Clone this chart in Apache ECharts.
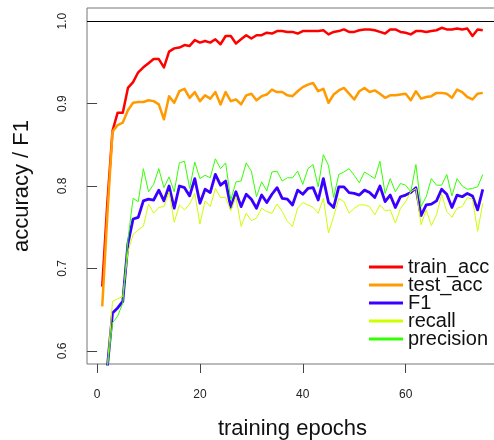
<!DOCTYPE html>
<html>
<head>
<meta charset="utf-8">
<script src="https://cdn.jsdelivr.net/npm/echarts@6/dist/echarts.min.js"></script>
<style>
  html, body { margin: 0; padding: 0; background: #fff; }
  #chart { width: 494px; height: 440px; }
</style>
</head>
<body>
<div id="chart"></div>
<script>
// epochs 1..75
const epochs = [1, 2, 3, 4, 5, 6, 7, 8, 9, 10, 11, 12, 13, 14, 15, 16, 17, 18, 19, 20,
  21, 22, 23, 24, 25, 26, 27, 28, 29, 30, 31, 32, 33, 34, 35, 36, 37, 38, 39, 40,
  41, 42, 43, 44, 45, 46, 47, 48, 49, 50, 51, 52, 53, 54, 55, 56, 57, 58, 59, 60,
  61, 62, 63, 64, 65, 66, 67, 68, 69, 70, 71, 72, 73, 74, 75]

const trainAcc = [0.678, 0.780, 0.867, 0.889, 0.889, 0.919, 0.926, 0.938, 0.944, 0.949,
  0.954, 0.954, 0.944, 0.963, 0.967, 0.968, 0.971, 0.970, 0.977, 0.974,
  0.976, 0.974, 0.978, 0.972, 0.982, 0.982, 0.973, 0.978, 0.983, 0.979,
  0.983, 0.983, 0.986, 0.985, 0.988, 0.988, 0.987, 0.987, 0.985, 0.988,
  0.988, 0.988, 0.988, 0.989, 0.984, 0.987, 0.988, 0.990, 0.987, 0.987,
  0.989, 0.990, 0.990, 0.989, 0.987, 0.985, 0.990, 0.990, 0.987, 0.986,
  0.984, 0.988, 0.988, 0.987, 0.988, 0.989, 0.992, 0.990, 0.990, 0.991,
  0.990, 0.991, 0.982, 0.990, 0.989]

const testAcc = [0.654, 0.765, 0.866, 0.874, 0.877, 0.892, 0.901, 0.902, 0.902, 0.904,
  0.903, 0.899, 0.881, 0.909, 0.901, 0.915, 0.918, 0.907, 0.914, 0.903,
  0.910, 0.906, 0.914, 0.899, 0.914, 0.903, 0.905, 0.899, 0.910, 0.912,
  0.904, 0.909, 0.911, 0.917, 0.914, 0.914, 0.910, 0.909, 0.915, 0.920,
  0.923, 0.925, 0.915, 0.918, 0.901, 0.911, 0.916, 0.919, 0.912, 0.905,
  0.915, 0.919, 0.914, 0.916, 0.912, 0.907, 0.910, 0.910, 0.911, 0.912,
  0.904, 0.915, 0.906, 0.908, 0.909, 0.913, 0.913, 0.912, 0.907, 0.917,
  0.914, 0.908, 0.905, 0.912, 0.913]

const f1 = [0.45, 0.58, 0.646, 0.652, 0.660, 0.730, 0.760, 0.762, 0.782, 0.784,
  0.783, 0.795, 0.782, 0.800, 0.773, 0.800, 0.798, 0.788, 0.809, 0.779,
  0.796, 0.792, 0.814, 0.801, 0.806, 0.774, 0.793, 0.775, 0.790, 0.784,
  0.773, 0.789, 0.780, 0.790, 0.798, 0.785, 0.784, 0.777, 0.795, 0.790,
  0.797, 0.798, 0.783, 0.809, 0.780, 0.774, 0.799, 0.799, 0.792, 0.791,
  0.789, 0.795, 0.792, 0.786, 0.800, 0.781, 0.789, 0.774, 0.787, 0.789,
  0.792, 0.798, 0.764, 0.777, 0.778, 0.782, 0.796, 0.790, 0.774, 0.789,
  0.787, 0.791, 0.788, 0.771, 0.796]

const recall = [0.45, 0.58, 0.660, 0.663, 0.666, 0.720, 0.741, 0.747, 0.751, 0.778,
  0.767, 0.774, 0.775, 0.793, 0.756, 0.777, 0.771, 0.778, 0.791, 0.754,
  0.782, 0.775, 0.797, 0.786, 0.786, 0.770, 0.787, 0.751, 0.767, 0.758,
  0.761, 0.773, 0.769, 0.767, 0.778, 0.769, 0.757, 0.751, 0.773, 0.780,
  0.777, 0.774, 0.767, 0.785, 0.743, 0.763, 0.785, 0.781, 0.767, 0.773,
  0.777, 0.777, 0.775, 0.765, 0.777, 0.770, 0.771, 0.755, 0.773, 0.781,
  0.793, 0.797, 0.753, 0.771, 0.752, 0.765, 0.790, 0.769, 0.762, 0.773,
  0.775, 0.786, 0.784, 0.745, 0.779]

const precision = [0.45, 0.58, 0.634, 0.642, 0.658, 0.735, 0.785, 0.781, 0.821, 0.793,
  0.802, 0.821, 0.798, 0.811, 0.793, 0.828, 0.830, 0.797, 0.829, 0.809,
  0.813, 0.810, 0.833, 0.821, 0.828, 0.783, 0.805, 0.806, 0.828, 0.818,
  0.787, 0.805, 0.794, 0.817, 0.818, 0.806, 0.810, 0.810, 0.818, 0.802,
  0.821, 0.826, 0.799, 0.838, 0.825, 0.786, 0.814, 0.817, 0.821, 0.813,
  0.804, 0.817, 0.813, 0.809, 0.830, 0.791, 0.809, 0.793, 0.803, 0.801,
  0.793, 0.826, 0.775, 0.787, 0.809, 0.801, 0.801, 0.814, 0.788, 0.809,
  0.800, 0.796, 0.797, 0.799, 0.814]

const xTicks = [0, 20, 40, 60]
const yTicks = [0.6, 0.7, 0.8, 0.9, 1.0]

const font = 'Liberation Sans, Arial, sans-serif'

const pairs = (vals) => epochs.map((e, i) => [e, vals[i]])

const lineSeries = (name, vals, color, width) => ({
  name: name,
  type: 'line',
  data: pairs(vals),
  showSymbol: false,
  symbol: 'none',
  clip: true,
  lineStyle: { color: color, width: width, join: 'round' },
  itemStyle: { color: color }
})

const chart = echarts.init(document.getElementById('chart'), null, { renderer: 'canvas' })

const series = [
  lineSeries('train_acc', trainAcc, '#ff0000', 2.5),
  lineSeries('test_acc', testAcc, '#ff9a00', 2.5),
  lineSeries('F1', f1, '#3a00ff', 2.8),
  lineSeries('recall', recall, '#ccff00', 1),
  lineSeries('precision', precision, '#33ff00', 1)
]

// horizontal reference line at 1.0
series[0].markLine = {
  silent: true,
  symbol: 'none',
  label: { show: false },
  lineStyle: { color: '#000', width: 1, type: 'solid' },
  data: [{ yAxis: 1.0 }]
}

chart.setOption({
  animation: false,
  backgroundColor: '#fff',
  grid: {
    left: 87,
    top: 8,
    width: 411,
    height: 356,
    outerBoundsMode: 'none',
    show: true,
    borderColor: '#777',
    borderWidth: 1,
    backgroundColor: 'transparent'
  },
  legend: {
    orient: 'vertical',
    left: 369,
    top: 257,
    padding: 0,
    icon: 'rect',
    itemWidth: 34,
    itemHeight: 3,
    itemGap: -2,
    textStyle: { fontFamily: font, fontSize: 20, lineHeight: 18, color: '#111' },
    data: ['train_acc', 'test_acc', 'F1', 'recall', 'precision']
  },
  xAxis: {
    type: 'value',
    min: -1.96,
    max: 77.96,
    name: 'training epochs',
    nameLocation: 'middle',
    nameGap: 54,
    nameTextStyle: { fontFamily: font, fontSize: 22, color: '#111' },
    axisLine: { show: false },
    axisTick: { show: true, length: 9, customValues: xTicks, lineStyle: { color: '#444' } },
    axisLabel: { customValues: xTicks, margin: 25, fontFamily: font, fontSize: 12, color: '#222' },
    splitLine: { show: false }
  },
  yAxis: {
    type: 'value',
    min: 0.584,
    max: 1.016,
    name: 'accuracy / F1',
    nameLocation: 'middle',
    nameGap: 54,
    nameTextStyle: { fontFamily: font, fontSize: 22, color: '#111' },
    axisLine: { show: false },
    axisTick: { show: true, length: 10, customValues: yTicks, lineStyle: { color: '#444' } },
    axisLabel: {
      customValues: yTicks,
      rotate: 90,
      margin: 18,
      fontFamily: font,
      fontSize: 12,
      color: '#222',
      formatter: (v) => v.toFixed(1)
    },
    splitLine: { show: false }
  },
  series: series
})
</script>
</body>
</html>
